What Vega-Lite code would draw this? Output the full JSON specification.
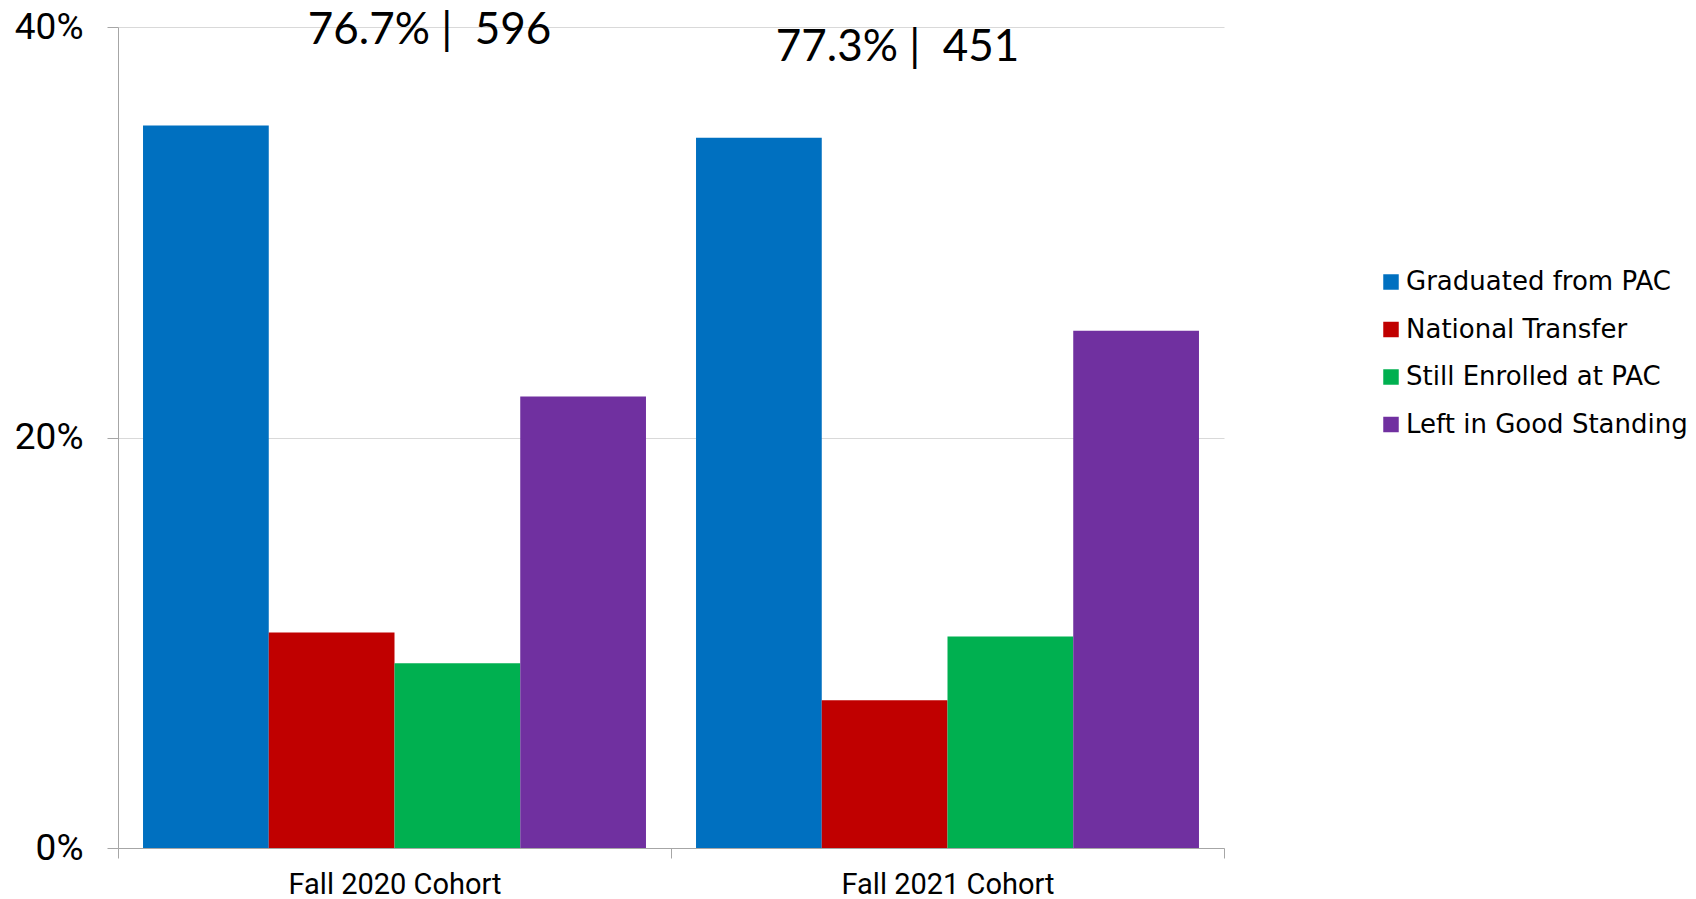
{
  "$schema": "https://vega.github.io/schema/vega-lite/v6.json",
  "autosize": "none",
  "width": 1106,
  "height": 821,
  "padding": {"left": 118, "top": 27, "right": 472, "bottom": 51},
  "background": "white",
  "config": {"view": {"stroke": null}},
  "datasets": {
    "bars": [
      {"cohort": "Fall 2020 Cohort", "outcome": "Graduated from PAC", "share": 0.352},
      {"cohort": "Fall 2020 Cohort", "outcome": "National Transfer", "share": 0.105},
      {"cohort": "Fall 2020 Cohort", "outcome": "Still Enrolled at PAC", "share": 0.090},
      {"cohort": "Fall 2020 Cohort", "outcome": "Left in Good Standing", "share": 0.220},
      {"cohort": "Fall 2021 Cohort", "outcome": "Graduated from PAC", "share": 0.346},
      {"cohort": "Fall 2021 Cohort", "outcome": "National Transfer", "share": 0.072},
      {"cohort": "Fall 2021 Cohort", "outcome": "Still Enrolled at PAC", "share": 0.103},
      {"cohort": "Fall 2021 Cohort", "outcome": "Left in Good Standing", "share": 0.252}
    ],
    "notes": [
      {"cohort": "Fall 2020 Cohort", "label": "76.7% |\u00a0\u00a0596", "pos": 0.398},
      {"cohort": "Fall 2021 Cohort", "label": "77.3% |\u00a0\u00a0451", "pos": 0.390}
    ]
  },
  "layer": [
    {
      "data": {"name": "bars"},
      "mark": {"type": "bar"},
      "encoding": {
        "x": {
          "field": "cohort", "type": "nominal", "sort": null,
          "scale": {"paddingInner": 0, "paddingOuter": 0},
          "axis": {
            "title": null, "labelAngle": 0, "tickBand": "extent", "labelLimit": 0,
            "labelFont": "Roboto, sans-serif",
            "labelFontSize": 29, "labelColor": "#000000", "labelPadding": 12,
            "domainColor": "#a6a6a6", "tickColor": "#a6a6a6", "tickSize": 10, "grid": false
          }
        },
        "xOffset": {
          "field": "outcome", "type": "nominal",
          "sort": ["Graduated from PAC", "National Transfer", "Still Enrolled at PAC", "Left in Good Standing"],
          "scale": {"paddingInner": 0, "paddingOuter": 0.199}
        },
        "y": {
          "field": "share", "type": "quantitative",
          "scale": {"domain": [0, 0.4], "nice": false},
          "axis": {
            "title": null, "values": [0, 0.2, 0.4], "format": ".0%",
            "labelFont": "Roboto, sans-serif",
            "labelFontSize": 37, "labelColor": "#000000", "labelPadding": 24,
            "domainColor": "#a6a6a6", "tickColor": "#a6a6a6", "tickSize": 11,
            "grid": true, "gridColor": "#d9d9d9", "gridWidth": 1
          }
        },
        "color": {
          "field": "outcome", "type": "nominal",
          "sort": ["Graduated from PAC", "National Transfer", "Still Enrolled at PAC", "Left in Good Standing"],
          "scale": {
            "domain": ["Graduated from PAC", "National Transfer", "Still Enrolled at PAC", "Left in Good Standing"],
            "range": ["#0070C0", "#C00000", "#00B050", "#7030A0"]
          },
          "legend": {
            "title": null, "orient": "none", "legendX": 1260, "legendY": 242,
            "symbolType": "square", "symbolSize": 240, "symbolStrokeWidth": 0,
            "labelFont": "DejaVu Sans, sans-serif", "labelFontSize": 26, "labelColor": "#000000",
            "labelOffset": 2, "rowPadding": 21.5, "labelLimit": 400
          }
        }
      }
    },
    {
      "data": {"name": "notes"},
      "transform": [{"filter": "datum.cohort == 'Fall 2020 Cohort'"}],
      "mark": {"type": "text", "font": "Lato, sans-serif", "fontSize": 44, "color": "#000000", "baseline": "middle", "align": "center", "dx": 35},
      "encoding": {
        "x": {"field": "cohort", "type": "nominal", "sort": null},
        "y": {"field": "pos", "type": "quantitative"},
        "text": {"field": "label"}
      }
    },
    {
      "data": {"name": "notes"},
      "transform": [{"filter": "datum.cohort == 'Fall 2021 Cohort'"}],
      "mark": {"type": "text", "font": "Lato, sans-serif", "fontSize": 44, "color": "#000000", "baseline": "middle", "align": "center", "dx": -50},
      "encoding": {
        "x": {"field": "cohort", "type": "nominal", "sort": null},
        "y": {"field": "pos", "type": "quantitative"},
        "text": {"field": "label"}
      }
    }
  ]
}
